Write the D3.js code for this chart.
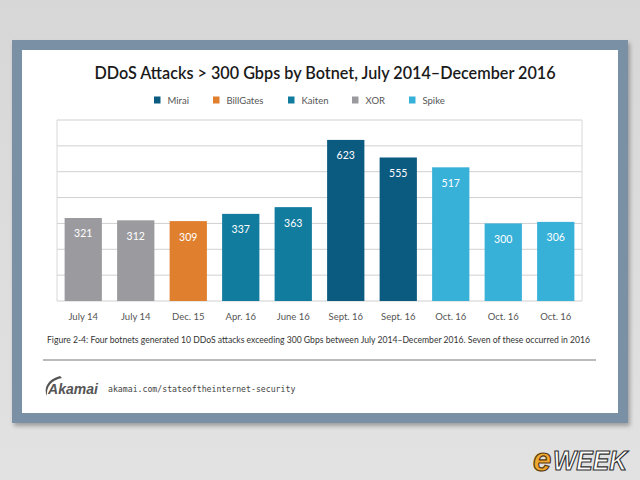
<!DOCTYPE html>
<html><head><meta charset="utf-8">
<script src="https://cdn.jsdelivr.net/npm/d3@7"></script>
<style>body{margin:0;background:#dadada}svg{display:block}</style>
</head><body>
<script>
const categories = ["July 14","July 14","Dec. 15","Apr. 16","June 16","Sept. 16","Sept. 16","Oct. 16","Oct. 16","Oct. 16"];
const values = [321,312,309,337,363,623,555,517,300,306];
const botnets = ["XOR","XOR","BillGates","Kaiten","Kaiten","Mirai","Mirai","Spike","Spike","Spike"];
const legendNames = ["Mirai","BillGates","Kaiten","XOR","Spike"];
const legendColors = ["#0b5a80","#e07f2e","#127c9f","#9b9b9f","#38b1d8"];
const yTicks = [0,100,200,300,400,500,600,700];

const W=640,H=480;
const svg=d3.select("body").append("svg").attr("width",W).attr("height",H);
const defs=svg.append("defs");
const g=defs.append("linearGradient").attr("id","bg").attr("x1",0).attr("y1",0).attr("x2",0).attr("y2",1);
g.append("stop").attr("offset","0").attr("stop-color","#d7d7d7");
g.append("stop").attr("offset","1").attr("stop-color","#e2e2e2");
svg.append("rect").attr("width",W).attr("height",H).attr("fill","url(#bg)");
const f=defs.append("filter").attr("id","sh").attr("x","-5%").attr("y","-5%").attr("width","110%").attr("height","115%");
f.append("feDropShadow").attr("dx",2).attr("dy",3).attr("stdDeviation",2).attr("flood-color","#000").attr("flood-opacity",0.3);

// frame
svg.append("rect").attr("x",12).attr("y",40).attr("width",616).attr("height",383).attr("fill","#7990a5").attr("filter","url(#sh)");
svg.append("rect").attr("x",22).attr("y",50).attr("width",596).attr("height",363).attr("fill","#ffffff");

// title
svg.append("text").attr("x",325).attr("y",79).attr("text-anchor","middle")
  .attr("font-family","Lato").attr("font-size",16.2).attr("font-weight",600).attr("fill","#1a1a1a")
  .text("DDoS Attacks > 300 Gbps by Botnet, July 2014\u2013December 2016");

// legend
const legX=[154,213,288,352,409];
legendNames.forEach((n,i)=>{
  svg.append("rect").attr("x",legX[i]).attr("y",96.5).attr("width",6.5).attr("height",7).attr("fill",legendColors[i]);
  svg.append("text").attr("x",legX[i]+13.5).attr("y",103.5).attr("font-family","Lato").attr("font-size",9.5)
    .attr("fill","#555").text(n);
});
const color=d3.scaleOrdinal().domain(legendNames).range(legendColors);

// plot
const x=d3.scaleBand().domain(d3.range(categories.length)).range([57,582]).paddingInner(0.29).paddingOuter(0.145);
const y=d3.scaleLinear().domain([0,700]).range([301,120]);

const grid=svg.append("g");
grid.selectAll("line").data(yTicks).join("line")
  .attr("x1",57).attr("x2",582).attr("y1",d=>y(d)).attr("y2",d=>y(d))
  .attr("stroke","#d0d0d0").attr("stroke-width",1);
svg.append("line").attr("x1",57).attr("x2",57).attr("y1",120).attr("y2",301).attr("stroke","#d8d8d8");
svg.append("line").attr("x1",582).attr("x2",582).attr("y1",120).attr("y2",301).attr("stroke","#d8d8d8");

svg.selectAll("rect.bar").data(values).join("rect").attr("class","bar")
  .attr("x",(d,i)=>x(i)).attr("width",x.bandwidth())
  .attr("y",d=>y(d)).attr("height",d=>y(0)-y(d))
  .attr("fill",(d,i)=>color(botnets[i]));

svg.selectAll("text.val").data(values).join("text").attr("class","val")
  .attr("x",(d,i)=>x(i)+x.bandwidth()/2).attr("y",d=>y(d)+19.5)
  .attr("text-anchor","middle").attr("font-family","Lato").attr("font-size",10.5).attr("fill","#ffffff")
  .text(d=>d);

const xAxis=d3.axisBottom(x).tickSize(0).tickPadding(0).tickFormat(i=>categories[i]);
const ax=svg.append("g").attr("transform","translate(0,301)").call(xAxis);
ax.select(".domain").remove();
ax.selectAll("text").attr("dy",0).attr("y",19).attr("font-family","Lato").attr("font-size",9.5).attr("fill","#555");

// caption
svg.append("text").attr("x",47).attr("y",343).attr("font-family","Lato").attr("font-size",8.6).attr("fill","#333")
  .attr("textLength",543).attr("lengthAdjust","spacingAndGlyphs")
  .text("Figure 2-4: Four botnets generated 10 DDoS attacks exceeding 300 Gbps between July 2014\u2013December 2016. Seven of these occurred in 2016");

svg.append("line").attr("x1",43).attr("x2",596).attr("y1",360).attr("y2",360).attr("stroke","#a5a5a5").attr("stroke-width",1.5);

// Akamai logo
svg.append("path").attr("d","M60,376 C48,379 43,388 47,396 C46,387 51,380 62,378 Z").attr("fill","#555");
svg.append("text").attr("x",48).attr("y",394).attr("font-family","Liberation Sans").attr("font-weight","bold")
  .attr("font-style","italic").attr("font-size",14).attr("fill","#555").attr("textLength",50).text("Akamai");
svg.append("text").attr("x",108).attr("y",392).attr("font-family","DejaVu Sans Mono").attr("font-size",8.2)
  .attr("fill","#444").text("akamai.com/stateoftheinternet-security");

// eWEEK logo
svg.append("text").attr("x",533).attr("y",471).attr("font-family","Liberation Sans").attr("font-weight","bold")
  .attr("font-style","italic").attr("font-size",33).attr("fill","#f0a830").attr("stroke","#5a3a10").attr("stroke-width",1.2)
  .text("e");
svg.append("text").attr("x",553).attr("y",470).attr("font-family","Liberation Sans").attr("font-weight","bold")
  .attr("font-style","italic").attr("font-size",27).attr("fill","#ffffff").attr("stroke","#333").attr("stroke-width",1.2)
  .attr("textLength",74).attr("lengthAdjust","spacingAndGlyphs").text("WEEK");
</script>
</body></html>
